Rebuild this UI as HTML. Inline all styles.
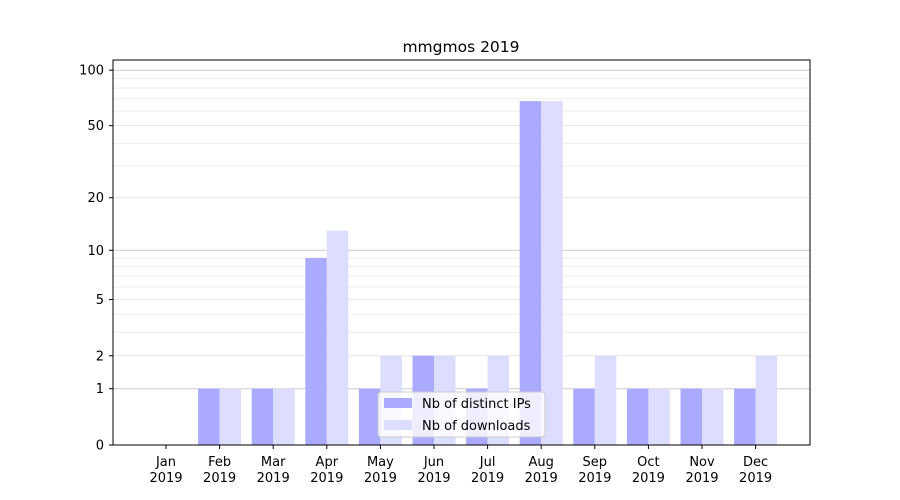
<!DOCTYPE html>
<html><head><meta charset="utf-8"><style>body{margin:0;background:#fff}svg{display:block}text{font-family:"DejaVu Sans","Liberation Sans",sans-serif;font-size:13px;fill:#000}</style></head>
<body>
<svg id="c" width="900" height="500" xmlns="http://www.w3.org/2000/svg">
<rect width="900" height="500" fill="#fff"/>
<g id="grid"></g>
<g id="bars"></g>
<rect x="113" y="60" width="697" height="385" fill="none" stroke="#000" stroke-width="1"/>
<g id="ticks"></g>
<text x="461" y="52" text-anchor="middle" style="font-size:15.5px">mmgmos 2019</text>
<g>
<rect x="378" y="392" width="167" height="45" rx="3" fill="#fff" fill-opacity="0.8" stroke="#ccc"/>
<rect x="384" y="398" width="28" height="10" fill="#aaaaff"/>
<text x="422" y="408">Nb of distinct IPs</text>
<rect x="384" y="420" width="28" height="10" fill="#ddddff"/>
<text x="422" y="430">Nb of downloads</text>
</g>
</svg>
<script>
const Y=v=>445-187*Math.log10(1+v);
const ns="http://www.w3.org/2000/svg";
function el(p,t,a,txt){const e=document.createElementNS(ns,t);for(const k in a)e.setAttribute(k,a[k]);if(txt!==undefined)e.textContent=txt;document.getElementById(p).appendChild(e);return e;}
const minors=[3,4,6,7,8,9,30,40,60,70,80,90];
minors.forEach(v=>el('grid','line',{x1:113,x2:810,y1:Y(v),y2:Y(v),stroke:'#eee','stroke-width':1}));
[2,5,20,50].forEach(v=>el('grid','line',{x1:113,x2:810,y1:Y(v),y2:Y(v),stroke:'#e6e6e6','stroke-width':1}));
[1,10,100].forEach(v=>el('grid','line',{x1:113,x2:810,y1:Y(v),y2:Y(v),stroke:'#ccc','stroke-width':1}));
[0,1,2,5,10,20,50,100].forEach(v=>{const y=Y(v);el('ticks','line',{x1:109,x2:113,y1:y,y2:y,stroke:'#000'});el('ticks','text',{x:104,y:y+4.5,'text-anchor':'end'},String(v));});
const m=['Jan','Feb','Mar','Apr','May','Jun','Jul','Aug','Sep','Oct','Nov','Dec'];
const ip=[0,1,1,9,1,2,1,68,1,1,1,1], dl=[0,1,1,13,2,2,2,68,2,1,1,2];
const w=21.5;
m.forEach((n,i)=>{const c=166+i*53.6;
 if(ip[i]>0)el('bars','rect',{x:c-w,y:Y(ip[i]),width:w,height:445-Y(ip[i]),fill:'#aaaaff'});
 if(dl[i]>0)el('bars','rect',{x:c,y:Y(dl[i]),width:w,height:445-Y(dl[i]),fill:'#ddddff'});
 el('ticks','line',{x1:c,x2:c,y1:445,y2:449,stroke:'#000'});
 el('ticks','text',{x:c,y:466,'text-anchor':'middle'},n);
 el('ticks','text',{x:c,y:482,'text-anchor':'middle'},'2019');
});
</script>
</body></html>
